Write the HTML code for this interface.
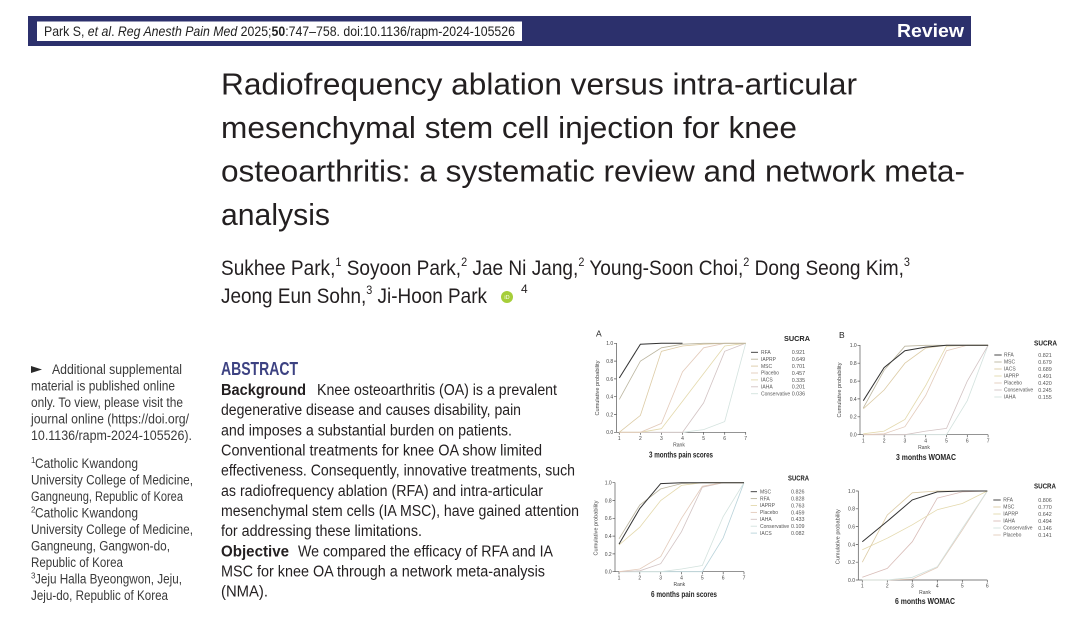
<!DOCTYPE html>
<html><head><meta charset="utf-8"><style>
html,body{margin:0;padding:0;background:#fff;}
svg{display:block;}
text{font-family:"Liberation Sans",sans-serif;}
</style></head><body>
<svg width="1087" height="636" viewBox="0 0 1087 636" xmlns="http://www.w3.org/2000/svg">
<rect width="1087" height="636" fill="#fff"/>
<!-- header bar -->
<rect x="28" y="16" width="943" height="30" fill="#2c306c"/>
<rect x="37" y="21.5" width="485" height="19.5" fill="#fff"/>
<text x="44" y="36" font-size="14" fill="#222" textLength="471" lengthAdjust="spacingAndGlyphs">Park S, <tspan font-style="italic">et al</tspan>. <tspan font-style="italic">Reg Anesth Pain Med</tspan> 2025;<tspan font-weight="bold">50</tspan>:747–758. doi:10.1136/rapm-2024-105526</text>
<text x="897" y="37" font-size="18" font-weight="bold" fill="#fff" textLength="67" lengthAdjust="spacingAndGlyphs">Review</text>

<!-- title -->
<g font-size="31" fill="#231f20">
<text x="221" y="94.5" textLength="636" lengthAdjust="spacingAndGlyphs">Radiofrequency ablation versus intra-articular</text>
<text x="221" y="138" textLength="576" lengthAdjust="spacingAndGlyphs">mesenchymal stem cell injection for knee</text>
<text x="221" y="181.5" textLength="744" lengthAdjust="spacingAndGlyphs">osteoarthritis: a systematic review and network meta-</text>
<text x="221" y="225" textLength="109" lengthAdjust="spacingAndGlyphs">analysis</text>
</g>
<!-- authors -->
<g font-size="21" fill="#231f20">
<text x="221" y="275" textLength="689" lengthAdjust="spacingAndGlyphs">Sukhee Park,<tspan font-size="12" dy="-9">1</tspan><tspan dy="9"> Soyoon Park,</tspan><tspan font-size="12" dy="-9">2</tspan><tspan dy="9"> Jae Ni Jang,</tspan><tspan font-size="12" dy="-9">2</tspan><tspan dy="9"> Young-Soon Choi,</tspan><tspan font-size="12" dy="-9">2</tspan><tspan dy="9"> Dong Seong Kim,</tspan><tspan font-size="12" dy="-9">3</tspan></text>
<text x="221" y="303" textLength="266" lengthAdjust="spacingAndGlyphs">Jeong Eun Sohn,<tspan font-size="12" dy="-9">3</tspan><tspan dy="9"> Ji-Hoon Park</tspan></text>
<text x="521" y="293" font-size="12">4</text>
</g>
<circle cx="507" cy="297" r="6" fill="#a6ce39"/>
<text x="507" y="299" font-size="5.5" fill="#fff" text-anchor="middle">iD</text>

<!-- left column -->
<g font-size="13.5" fill="#3a3a3a">
<polygon points="31,366 42,369.5 31,373" fill="#2a2a2a"/>
<text x="52" y="374" textLength="130" lengthAdjust="spacingAndGlyphs">Additional supplemental</text>
<text x="31" y="390.5" textLength="144" lengthAdjust="spacingAndGlyphs">material is published online</text>
<text x="31" y="407" textLength="152" lengthAdjust="spacingAndGlyphs">only. To view, please visit the</text>
<text x="31" y="423.5" textLength="158" lengthAdjust="spacingAndGlyphs">journal online (https://doi.org/</text>
<text x="31" y="440" textLength="161" lengthAdjust="spacingAndGlyphs">10.1136/rapm-2024-105526).</text>
<text x="31" y="463" font-size="8">1</text>
<text x="35" y="468" textLength="103" lengthAdjust="spacingAndGlyphs">Catholic Kwandong</text>
<text x="31" y="484.5" textLength="162" lengthAdjust="spacingAndGlyphs">University College of Medicine,</text>
<text x="31" y="501" textLength="152" lengthAdjust="spacingAndGlyphs">Gangneung, Republic of Korea</text>
<text x="31" y="512.5" font-size="8">2</text>
<text x="35" y="517.5" textLength="103" lengthAdjust="spacingAndGlyphs">Catholic Kwandong</text>
<text x="31" y="534" textLength="162" lengthAdjust="spacingAndGlyphs">University College of Medicine,</text>
<text x="31" y="550.5" textLength="139" lengthAdjust="spacingAndGlyphs">Gangneung, Gangwon-do,</text>
<text x="31" y="567" textLength="92" lengthAdjust="spacingAndGlyphs">Republic of Korea</text>
<text x="31" y="578.5" font-size="8">3</text>
<text x="35" y="583.5" textLength="147" lengthAdjust="spacingAndGlyphs">Jeju Halla Byeongwon, Jeju,</text>
<text x="31" y="600" textLength="137" lengthAdjust="spacingAndGlyphs">Jeju-do, Republic of Korea</text>
</g>

<!-- abstract -->
<text x="221" y="375" font-size="18" font-weight="bold" fill="#3d4282" textLength="77" lengthAdjust="spacingAndGlyphs">ABSTRACT</text>
<g font-size="15.5" fill="#231f20">
<text x="221" y="395" font-weight="bold" textLength="85" lengthAdjust="spacingAndGlyphs">Background</text>
<text x="317" y="395" textLength="240" lengthAdjust="spacingAndGlyphs">Knee osteoarthritis (OA) is a prevalent</text>
<text x="221" y="415" textLength="300" lengthAdjust="spacingAndGlyphs">degenerative disease and causes disability, pain</text>
<text x="221" y="435.5" textLength="291" lengthAdjust="spacingAndGlyphs">and imposes a substantial burden on patients.</text>
<text x="221" y="455.5" textLength="321" lengthAdjust="spacingAndGlyphs">Conventional treatments for knee OA show limited</text>
<text x="221" y="475.5" textLength="354" lengthAdjust="spacingAndGlyphs">effectiveness. Consequently, innovative treatments, such</text>
<text x="221" y="496" textLength="322" lengthAdjust="spacingAndGlyphs">as radiofrequency ablation (RFA) and intra-articular</text>
<text x="221" y="516" textLength="358" lengthAdjust="spacingAndGlyphs">mesenchymal stem cells (IA MSC), have gained attention</text>
<text x="221" y="536" textLength="201" lengthAdjust="spacingAndGlyphs">for addressing these limitations.</text>
<text x="221" y="556.5" font-weight="bold" textLength="68" lengthAdjust="spacingAndGlyphs">Objective</text>
<text x="298" y="556.5" textLength="255" lengthAdjust="spacingAndGlyphs">We compared the efficacy of RFA and IA</text>
<text x="221" y="576.5" textLength="324" lengthAdjust="spacingAndGlyphs">MSC for knee OA through a network meta-analysis</text>
<text x="221" y="596.5" textLength="47" lengthAdjust="spacingAndGlyphs">(NMA).</text>
</g>

<!-- ================= Panel A ================= -->
<g>
<text x="596" y="336.5" font-size="8.5" fill="#222">A</text>
<g stroke="#555" stroke-width="0.7" fill="none">
<line x1="616.5" y1="343" x2="616.5" y2="432.3"/>
<line x1="616.5" y1="432.3" x2="745.7" y2="432.3"/>
<path d="M614 432.3H616.5M614 414.5H616.5M614 396.7H616.5M614 378.9H616.5M614 361.1H616.5M614 343.3H616.5"/>
<path d="M619.3 432.3V434.8M640.4 432.3V434.8M661.4 432.3V434.8M682.5 432.3V434.8M703.6 432.3V434.8M724.7 432.3V434.8M745.7 432.3V434.8"/>
</g>
<g font-size="5" fill="#444" text-anchor="end">
<text x="613.2" y="434.2">0.0</text><text x="613.2" y="416.4">0.2</text><text x="613.2" y="398.6">0.4</text><text x="613.2" y="380.8">0.6</text><text x="613.2" y="363">0.8</text><text x="613.2" y="345.2">1.0</text>
</g>
<g font-size="5" fill="#444" text-anchor="middle">
<text x="619.3" y="440">1</text><text x="640.4" y="440">2</text><text x="661.4" y="440">3</text><text x="682.5" y="440">4</text><text x="703.6" y="440">5</text><text x="724.7" y="440">6</text><text x="745.7" y="440">7</text>
<text x="679" y="446.5">Rank</text>
</g>
<text transform="translate(599,388) rotate(-90)" font-size="5.6" fill="#444" text-anchor="middle">Cumulative probability</text>
<text x="649" y="457.5" font-size="8" font-weight="bold" fill="#222" textLength="64" lengthAdjust="spacingAndGlyphs">3 months pain scores</text>
<g fill="none" stroke-width="0.8">
<polyline stroke="#d3e2de" points="619.3,432.3 640.4,432.3 661.4,432.3 682.5,432.3 703.6,429.6 724.7,421.6 745.7,343.3"/>
<polyline stroke="#d2c3c3" points="619.3,432.3 640.4,432.3 661.4,432.3 682.5,432.3 703.6,402.9 724.7,351.3 745.7,343.3"/>
<polyline stroke="#e4d9ad" points="619.3,432.3 640.4,432.3 661.4,428.7 682.5,401.2 703.6,373.6 724.7,346.0 745.7,343.3"/>
<polyline stroke="#e3cbbb" points="619.3,432.3 640.4,432.3 661.4,423.4 682.5,371.8 703.6,347.8 724.7,343.3 745.7,343.3"/>
<polyline stroke="#dccba5" points="619.3,432.3 640.4,415.4 661.4,351.3 682.5,346.0 703.6,344.2 724.7,343.3 745.7,343.3"/>
<polyline stroke="#bbb59f" points="619.3,399.4 640.4,361.1 661.4,347.8 682.5,344.2 703.6,343.3 724.7,343.3 745.7,343.3"/>
<polyline stroke="#333" stroke-width="1" points="619.3,378.0 640.4,344.2 661.4,343.3 682.5,343.3"/>
</g>
<text x="784" y="341" font-size="7.3" font-weight="bold" fill="#222" textLength="26" lengthAdjust="spacingAndGlyphs">SUCRA</text>
<g stroke-width="0.9">
<line x1="751" y1="352.3" x2="758" y2="352.3" stroke="#333"/>
<line x1="751" y1="359.2" x2="758" y2="359.2" stroke="#bbb59f"/>
<line x1="751" y1="366.1" x2="758" y2="366.1" stroke="#dccba5"/>
<line x1="751" y1="373" x2="758" y2="373" stroke="#e3cbbb"/>
<line x1="751" y1="379.9" x2="758" y2="379.9" stroke="#e4d9ad"/>
<line x1="751" y1="386.8" x2="758" y2="386.8" stroke="#d2c3c3"/>
<line x1="751" y1="393.7" x2="758" y2="393.7" stroke="#d3e2de"/>
</g>
<g font-size="5" fill="#555">
<text x="761" y="354">RFA</text><text x="761" y="360.9">IAPRP</text><text x="761" y="367.8">MSC</text><text x="761" y="374.7">Placebo</text><text x="761" y="381.6">IACS</text><text x="761" y="388.5">IAHA</text><text x="761" y="395.4">Conservative</text>
</g>
<g font-size="5.4" fill="#555">
<text x="791.7" y="354.2">0.921</text><text x="791.7" y="361.1">0.649</text><text x="791.7" y="368">0.701</text><text x="791.7" y="374.9">0.457</text><text x="791.7" y="381.8">0.335</text><text x="791.7" y="388.7">0.201</text><text x="791.7" y="395.6">0.036</text>
</g>
</g>

<!-- ================= Panel B ================= -->
<g>
<text x="839" y="338" font-size="8.5" fill="#222">B</text>
<g stroke="#555" stroke-width="0.7" fill="none">
<line x1="860" y1="345" x2="860" y2="434.7"/>
<line x1="860" y1="434.7" x2="988.1" y2="434.7"/>
<path d="M857.5 434.7H860M857.5 416.8H860M857.5 398.9H860M857.5 381.1H860M857.5 363.2H860M857.5 345.3H860"/>
<path d="M863.3 434.7V437.2M884.1 434.7V437.2M904.9 434.7V437.2M925.7 434.7V437.2M946.5 434.7V437.2M967.3 434.7V437.2M988.1 434.7V437.2"/>
</g>
<g font-size="5" fill="#444" text-anchor="end">
<text x="856.7" y="436.6">0.0</text><text x="856.7" y="418.7">0.2</text><text x="856.7" y="400.8">0.4</text><text x="856.7" y="383">0.6</text><text x="856.7" y="365.1">0.8</text><text x="856.7" y="347.2">1.0</text>
</g>
<g font-size="5" fill="#444" text-anchor="middle">
<text x="863.3" y="442.4">1</text><text x="884.1" y="442.4">2</text><text x="904.9" y="442.4">3</text><text x="925.7" y="442.4">4</text><text x="946.5" y="442.4">5</text><text x="967.3" y="442.4">6</text><text x="988.1" y="442.4">7</text>
<text x="924" y="449">Rank</text>
</g>
<text transform="translate(841,390) rotate(-90)" font-size="5.6" fill="#444" text-anchor="middle">Cumulative probability</text>
<text x="896" y="460" font-size="8" font-weight="bold" fill="#222" textLength="60" lengthAdjust="spacingAndGlyphs">3 months WOMAC</text>
<g fill="none" stroke-width="0.8">
<polyline stroke="#d3e2de" points="863.3,434.7 884.1,434.7 904.9,434.7 925.7,434.7 946.5,434.7 967.3,400.7 988.1,345.3"/>
<polyline stroke="#d2c3c3" points="863.3,434.7 884.1,434.7 904.9,434.7 925.7,431.1 946.5,428.4 967.3,381.1 988.1,345.3"/>
<polyline stroke="#e3cbbb" points="863.3,434.7 884.1,433.8 904.9,426.7 925.7,395.4 946.5,350.7 967.3,345.3 988.1,345.3"/>
<polyline stroke="#e4d9ad" points="863.3,433.8 884.1,431.1 904.9,419.5 925.7,385.5 946.5,346.2 967.3,345.3 988.1,345.3"/>
<polyline stroke="#dccba5" points="863.3,408.8 884.1,390.0 904.9,363.2 925.7,348.0 946.5,345.3 967.3,345.3 988.1,345.3"/>
<polyline stroke="#bbb59f" points="863.3,407.9 884.1,370.3 904.9,346.2 925.7,345.3 946.5,345.3 967.3,345.3 988.1,345.3"/>
<polyline stroke="#333" stroke-width="1" points="863.3,400.7 884.1,367.6 904.9,350.7 925.7,347.1 946.5,345.3 967.3,345.3 988.1,345.3"/>
</g>
<text x="1034" y="345.5" font-size="7.3" font-weight="bold" fill="#222" textLength="23" lengthAdjust="spacingAndGlyphs">SUCRA</text>
<g stroke-width="0.9">
<line x1="994.3" y1="355" x2="1001.7" y2="355" stroke="#333"/>
<line x1="994.3" y1="362" x2="1001.7" y2="362" stroke="#bbb59f"/>
<line x1="994.3" y1="369" x2="1001.7" y2="369" stroke="#dccba5"/>
<line x1="994.3" y1="376" x2="1001.7" y2="376" stroke="#e4d9ad"/>
<line x1="994.3" y1="383" x2="1001.7" y2="383" stroke="#e3cbbb"/>
<line x1="994.3" y1="390" x2="1001.7" y2="390" stroke="#d2c3c3"/>
<line x1="994.3" y1="397" x2="1001.7" y2="397" stroke="#d3e2de"/>
</g>
<g font-size="5" fill="#555">
<text x="1004" y="356.7">RFA</text><text x="1004" y="363.7">MSC</text><text x="1004" y="370.7">IACS</text><text x="1004" y="377.7">IAPRP</text><text x="1004" y="384.7">Placebo</text><text x="1004" y="391.7">Conservative</text><text x="1004" y="398.7">IAHA</text>
</g>
<g font-size="5.4" fill="#555">
<text x="1038.3" y="356.9">0.821</text><text x="1038.3" y="363.9">0.679</text><text x="1038.3" y="370.9">0.689</text><text x="1038.3" y="377.9">0.491</text><text x="1038.3" y="384.9">0.420</text><text x="1038.3" y="391.9">0.245</text><text x="1038.3" y="398.9">0.155</text>
</g>
</g>

<!-- ================= Panel C ================= -->
<g>
<g stroke="#555" stroke-width="0.7" fill="none">
<line x1="615" y1="482.5" x2="615" y2="571.7"/>
<line x1="615" y1="571.7" x2="744" y2="571.7"/>
<path d="M612.5 571.7H615M612.5 553.9H615M612.5 536.1H615M612.5 518.3H615M612.5 500.5H615M612.5 482.7H615"/>
<path d="M619 571.7V574.2M639.8 571.7V574.2M660.7 571.7V574.2M681.5 571.7V574.2M702.3 571.7V574.2M723.2 571.7V574.2M744 571.7V574.2"/>
</g>
<g font-size="5" fill="#444" text-anchor="end">
<text x="611.7" y="573.6">0.0</text><text x="611.7" y="555.8">0.2</text><text x="611.7" y="538">0.4</text><text x="611.7" y="520.2">0.6</text><text x="611.7" y="502.4">0.8</text><text x="611.7" y="484.6">1.0</text>
</g>
<g font-size="5" fill="#444" text-anchor="middle">
<text x="619" y="579.4">1</text><text x="639.8" y="579.4">2</text><text x="660.7" y="579.4">3</text><text x="681.5" y="579.4">4</text><text x="702.3" y="579.4">5</text><text x="723.2" y="579.4">6</text><text x="744" y="579.4">7</text>
<text x="679.3" y="586">Rank</text>
</g>
<text transform="translate(597.5,528) rotate(-90)" font-size="5.6" fill="#444" text-anchor="middle">Cumulative probability</text>
<text x="651" y="597" font-size="8" font-weight="bold" fill="#222" textLength="66" lengthAdjust="spacingAndGlyphs">6 months pain scores</text>
<g fill="none" stroke-width="0.8">
<polyline stroke="#b9d3da" points="619,571.7 639.8,571.7 660.7,571.7 681.5,571.7 702.3,571.7 723.2,537.9 744,482.7"/>
<polyline stroke="#d3e2de" points="619,571.7 639.8,571.7 660.7,571.7 681.5,569.0 702.3,565.5 723.2,516.5 744,482.7"/>
<polyline stroke="#d2c3c3" points="619,571.7 639.8,570.8 660.7,563.7 681.5,531.7 702.3,487.2 723.2,482.7 744,482.7"/>
<polyline stroke="#e3cbbb" points="619,571.7 639.8,569.0 660.7,556.6 681.5,518.3 702.3,486.3 723.2,482.7 744,482.7"/>
<polyline stroke="#e4d9ad" points="619,545.0 639.8,527.2 660.7,500.5 681.5,485.4 702.3,482.7 723.2,482.7 744,482.7"/>
<polyline stroke="#bbb59f" points="619,538.8 639.8,505.0 660.7,488.9 681.5,483.6 702.3,482.7 723.2,482.7 744,482.7"/>
<polyline stroke="#333" stroke-width="1" points="619,544.1 639.8,508.5 660.7,483.6 681.5,482.7 702.3,482.7 723.2,482.7 744,482.7"/>
</g>
<text x="788" y="480.5" font-size="7.3" font-weight="bold" fill="#222" textLength="21" lengthAdjust="spacingAndGlyphs">SUCRA</text>
<g stroke-width="0.9">
<line x1="750.7" y1="491.7" x2="757" y2="491.7" stroke="#333"/>
<line x1="750.7" y1="498.6" x2="757" y2="498.6" stroke="#bbb59f"/>
<line x1="750.7" y1="505.5" x2="757" y2="505.5" stroke="#e4d9ad"/>
<line x1="750.7" y1="512.4" x2="757" y2="512.4" stroke="#e3cbbb"/>
<line x1="750.7" y1="519.3" x2="757" y2="519.3" stroke="#d2c3c3"/>
<line x1="750.7" y1="526.2" x2="757" y2="526.2" stroke="#d3e2de"/>
<line x1="750.7" y1="533.1" x2="757" y2="533.1" stroke="#b9d3da"/>
</g>
<g font-size="5" fill="#555">
<text x="760" y="493.4">MSC</text><text x="760" y="500.3">RFA</text><text x="760" y="507.2">IAPRP</text><text x="760" y="514.1">Placebo</text><text x="760" y="521">IAHA</text><text x="760" y="527.9">Conservative</text><text x="760" y="534.8">IACS</text>
</g>
<g font-size="5.4" fill="#555">
<text x="791" y="493.6">0.826</text><text x="791" y="500.5">0.828</text><text x="791" y="507.4">0.763</text><text x="791" y="514.3">0.459</text><text x="791" y="521.2">0.433</text><text x="791" y="528.1">0.109</text><text x="791" y="535">0.082</text>
</g>
</g>

<!-- ================= Panel D ================= -->
<g>
<g stroke="#555" stroke-width="0.7" fill="none">
<line x1="858.3" y1="490.8" x2="858.3" y2="580"/>
<line x1="858.3" y1="580" x2="987.3" y2="580"/>
<path d="M855.8 580H858.3M855.8 562.2H858.3M855.8 544.4H858.3M855.8 526.6H858.3M855.8 508.8H858.3M855.8 491H858.3"/>
<path d="M862.3 580V582.5M887.3 580V582.5M912.3 580V582.5M937.3 580V582.5M962.3 580V582.5M987.3 580V582.5"/>
</g>
<g font-size="5" fill="#444" text-anchor="end">
<text x="855" y="581.9">0.0</text><text x="855" y="564.1">0.2</text><text x="855" y="546.3">0.4</text><text x="855" y="528.5">0.6</text><text x="855" y="510.7">0.8</text><text x="855" y="492.9">1.0</text>
</g>
<g font-size="5" fill="#444" text-anchor="middle">
<text x="862.3" y="587.7">1</text><text x="887.3" y="587.7">2</text><text x="912.3" y="587.7">3</text><text x="937.3" y="587.7">4</text><text x="962.3" y="587.7">5</text><text x="987.3" y="587.7">6</text>
<text x="925" y="594.2">Rank</text>
</g>
<text transform="translate(839.5,536.7) rotate(-90)" font-size="5.6" fill="#444" text-anchor="middle">Cumulative probability</text>
<text x="895" y="604" font-size="8" font-weight="bold" fill="#222" textLength="60" lengthAdjust="spacingAndGlyphs">6 months WOMAC</text>
<g fill="none" stroke-width="0.8">
<polyline stroke="#e3cbbb" points="862.3,580 887.3,580 912.3,579.1 937.3,567.5 962.3,530.2 987.3,491"/>
<polyline stroke="#d3e2de" points="862.3,580 887.3,580 912.3,577.3 937.3,566.7 962.3,528.4 987.3,491"/>
<polyline stroke="#d9bdb8" points="862.3,577.3 887.3,568.4 912.3,541.7 937.3,498.1 962.3,491.9 987.3,491"/>
<polyline stroke="#e4d9ad" points="862.3,549.7 887.3,538.2 912.3,524.8 937.3,509.7 962.3,503.5 987.3,491"/>
<polyline stroke="#dccba5" points="862.3,562.2 887.3,515.0 912.3,492.8 937.3,491 962.3,491 987.3,491"/>
<polyline stroke="#333" stroke-width="1" points="862.3,541.7 887.3,521.3 912.3,499.9 937.3,491.9 962.3,491 987.3,491"/>
</g>
<text x="1034" y="488.5" font-size="7.3" font-weight="bold" fill="#222" textLength="22" lengthAdjust="spacingAndGlyphs">SUCRA</text>
<g stroke-width="0.9">
<line x1="993.3" y1="500" x2="1000.7" y2="500" stroke="#333"/>
<line x1="993.3" y1="507" x2="1000.7" y2="507" stroke="#dccba5"/>
<line x1="993.3" y1="514" x2="1000.7" y2="514" stroke="#e4d9ad"/>
<line x1="993.3" y1="521" x2="1000.7" y2="521" stroke="#d9bdb8"/>
<line x1="993.3" y1="528" x2="1000.7" y2="528" stroke="#d3e2de"/>
<line x1="993.3" y1="535" x2="1000.7" y2="535" stroke="#e3cbbb"/>
</g>
<g font-size="5" fill="#555">
<text x="1003.3" y="501.7">RFA</text><text x="1003.3" y="508.7">MSC</text><text x="1003.3" y="515.7">IAPRP</text><text x="1003.3" y="522.7">IAHA</text><text x="1003.3" y="529.7">Conservative</text><text x="1003.3" y="536.7">Placebo</text>
</g>
<g font-size="5.4" fill="#555">
<text x="1038.3" y="501.9">0.806</text><text x="1038.3" y="508.9">0.770</text><text x="1038.3" y="515.9">0.642</text><text x="1038.3" y="522.9">0.494</text><text x="1038.3" y="529.9">0.146</text><text x="1038.3" y="536.9">0.141</text>
</g>
</g>
</svg>
</body></html>
